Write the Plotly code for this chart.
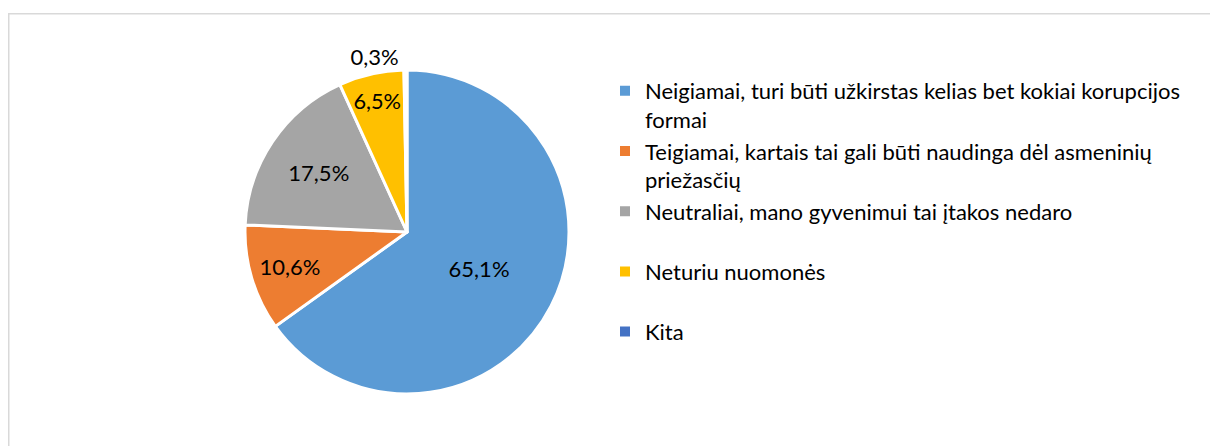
import plotly.graph_objects as go

labels = [
    "Neigiamai, turi būti užkirstas kelias bet kokiai korupcijos<br>formai",
    "Teigiamai, kartais tai gali būti naudinga dėl asmeninių<br>priežasčių",
    "Neutraliai, mano gyvenimui tai įtakos nedaro<br>\u00a0",
    "Neturiu nuomonės<br>\u00a0",
    "Kita",
]
values = [65.1, 10.6, 17.5, 6.5, 0.3]
value_text = ["65,1%", "10,6%", "17,5%", "6,5%", "0,3%"]
colors = ["#5B9BD5", "#ED7D31", "#A5A5A5", "#FFC000", "#4472C4"]

W, H = 1218, 446
FONT = "Lato"

fig = go.Figure(go.Pie(
    labels=labels,
    values=values,
    text=value_text,
    textinfo="text",
    textposition=["inside", "inside", "inside", "inside", "outside"],
    insidetextorientation="horizontal",
    sort=False,
    direction="clockwise",
    rotation=0,
    marker=dict(colors=colors, line=dict(color="white", width=3)),
    textfont=dict(family=FONT, size=22, color="black"),
    domain=dict(x=[237 / W, 561 / W], y=[1 - 386 / H, 1 - 62 / H]),
    hoverinfo="label+text",
))

fig.update_layout(
    width=W, height=H,
    margin=dict(l=0, r=0, t=0, b=0),
    paper_bgcolor="white",
    font=dict(family=FONT, size=22, color="black"),
    showlegend=True,
    legend=dict(
        x=597 / W, y=1 - 62 / H, xanchor="left", yanchor="top",
        font=dict(family=FONT, size=22, color="black"),
        itemsizing="constant",
        valign="top",
        bgcolor="rgba(0,0,0,0)",
    ),
    shapes=[dict(
        type="rect", xref="paper", yref="paper",
        x0=0.75 / W, x1=1.05, y0=-0.05, y1=1 - 5.75 / H,
        line=dict(color="#D9D9D9", width=1.5),
    )],
)

fig.write_html("out.html")
